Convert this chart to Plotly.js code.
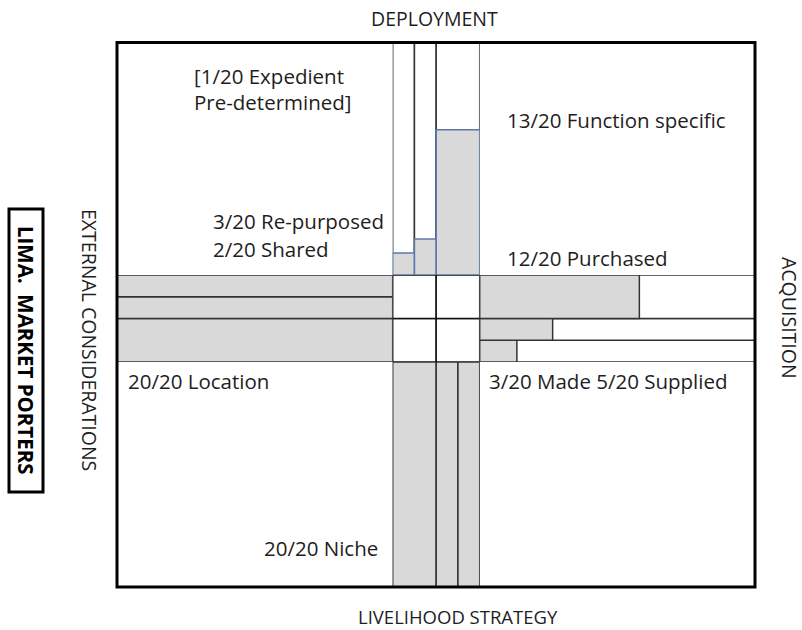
<!DOCTYPE html>
<html>
<head>
<meta charset="utf-8">
<script src="https://cdn.plot.ly/plotly-3.0.1.min.js"></script>
<style>
  body { margin: 0; background: #fff; }
  #myPlotDiv { width: 802px; height: 630px; }
</style>
</head>
<body>
<div id="myPlotDiv"></div>
<script>
// lanes are [position, width] on a 4-unit scale across each arm
// values are scores out of 20

// Deployment (top arm), lanes left to right
const deployLanes = [0.5, 1.5, 3];
const deployWidths = [1, 1, 2];
const deployValues = [1.9, 3.1, 12.5];

// Acquisition (right arm), lanes bottom to top
const acqLanes = [0.5, 1.5, 3];
const acqWidths = [1, 1, 2];
const acqValues = [2.7, 5.3, 11.6];

// External considerations (left arm), lanes bottom to top
const extLanes = [1, 2.5, 3.5];
const extWidths = [2, 1, 1];
const extValues = [20, 20, 20];

// Livelihood strategy (bottom arm), lanes left to right
const liveLanes = [1, 2.5, 3.5];
const liveWidths = [2, 1, 1];
const liveValues = [20, 20, 20];

const maxScore = 20;

// centre square: 2 x 2 empty cells
const centreX = [0.5, 1.5, 0.5, 1.5];
const centreBase = [0, 0, 1, 1];

const W = 802, H = 630;
const px = v => v / W;          // pixel -> paper x
const py = v => 1 - v / H;      // pixel -> paper y

const FONT = '"Open Sans", Lato, sans-serif';
const GRAY = '#d9d9d9';
const EDGE = '#333333';

function full(n) { return new Array(n).fill(maxScore); }

// vertical arm traces
function vArm(lanes, widths, values, xa, ya, fillEdge) {
    return [
        {
            type: 'bar', x: lanes, y: full(lanes.length), width: widths,
            xaxis: xa, yaxis: ya, cliponaxis: false, hoverinfo: 'skip',
            marker: { color: '#ffffff', line: { color: EDGE, width: 1.5 } }
        },
        {
            type: 'bar', x: lanes, y: values, width: widths,
            xaxis: xa, yaxis: ya, cliponaxis: false, hoverinfo: 'skip',
            marker: { color: GRAY, line: { color: fillEdge, width: 1.5 } }
        }
    ];
}

// horizontal arm traces
function hArm(lanes, widths, values, xa, ya) {
    return [
        {
            type: 'bar', orientation: 'h', y: lanes, x: full(lanes.length), width: widths,
            xaxis: xa, yaxis: ya, cliponaxis: false, hoverinfo: 'skip',
            marker: { color: '#ffffff', line: { color: EDGE, width: 1.5 } }
        },
        {
            type: 'bar', orientation: 'h', y: lanes, x: values, width: widths,
            xaxis: xa, yaxis: ya, cliponaxis: false, hoverinfo: 'skip',
            marker: { color: GRAY, line: { color: EDGE, width: 1.5 } }
        }
    ];
}

var data = []
    .concat(vArm(deployLanes, deployWidths, deployValues, 'x', 'y', '#5b78a8'))
    .concat(hArm(acqLanes, acqWidths, acqValues, 'x2', 'y2'))
    .concat(hArm(extLanes, extWidths, extValues, 'x3', 'y3'))
    .concat(vArm(liveLanes, liveWidths, liveValues, 'x4', 'y4', EDGE));

data.push({
    type: 'bar', x: centreX, y: [1, 1, 1, 1], base: centreBase, width: 1,
    xaxis: 'x5', yaxis: 'y5', cliponaxis: false, hoverinfo: 'skip',
    marker: { color: '#ffffff', line: { color: '#111111', width: 1.5 } }
});

function ax(domain, range) {
    return { domain: domain, range: range, visible: false, fixedrange: true };
}

// pixel boundaries of the diagram
const L = 117, R = 755, T = 42.5, B = 587;
const cx0 = 392.7, cx1 = 479.7, cy0 = 275, cy1 = 362;

function label(text, x, y, opts) {
    return Object.assign({
        text: text, x: px(x), y: py(y), xref: 'paper', yref: 'paper',
        xanchor: 'left', yanchor: 'middle', showarrow: false,
        font: { family: FONT, size: 20.5, color: '#1e1e1e' }
    }, opts || {});
}

function heading(text, x, y, angle, size) {
    return label(text, x, y, {
        xanchor: 'center', textangle: angle || 0, borderpad: 0,
        font: { family: FONT, size: size || 19.5, color: '#1e1e1e' }
    });
}

var layout = {
    width: W, height: H, autosize: false,
    margin: { l: 0, r: 0, t: 0, b: 0 },
    paper_bgcolor: '#ffffff', plot_bgcolor: 'rgba(0,0,0,0)',
    showlegend: false, barmode: 'overlay', bargap: 0,
    xaxis: ax([px(cx0), px(cx1)], [0, 4]),
    yaxis: ax([py(cy0), py(T)], [0, maxScore]),
    xaxis2: ax([px(cx1), px(R)], [0, maxScore]),
    yaxis2: ax([py(cy1), py(cy0)], [0, 4]),
    xaxis3: ax([px(L), px(cx0)], [maxScore, 0]),
    yaxis3: ax([py(cy1), py(cy0)], [0, 4]),
    xaxis4: ax([px(cx0), px(cx1)], [0, 4]),
    yaxis4: ax([py(B), py(cy1)], [maxScore, 0]),
    xaxis5: ax([px(cx0), px(cx1)], [0, 2]),
    yaxis5: ax([py(cy1), py(cy0)], [0, 2]),
    shapes: [
        {
            type: 'rect', xref: 'paper', yref: 'paper',
            x0: px(L), x1: px(R), y0: py(B), y1: py(T),
            line: { color: '#000000', width: 3 }, layer: 'above'
        },
        {
            type: 'rect', xref: 'paper', yref: 'paper',
            x0: px(9), x1: px(43), y0: py(492), y1: py(209),
            line: { color: '#000000', width: 3 }
        }
    ],
    annotations: [
        heading('DEPLOYMENT', 434, 18),
        heading('LIVELIHOOD STRATEGY', 458, 616, 0, 18.5),
        heading('EXTERNAL CONSIDERATIONS', 90, 340, 90),
        heading('ACQUISITION', 790, 318, 90),
        label('<b>LIMA.  MARKET PORTERS</b>', 26, 350, {
            xanchor: 'center', textangle: 90,
            font: { family: FONT, size: 20.5, color: '#000000' }
        }),
        label('[1/20 Expedient', 192, 76),
        label('Pre-determined]', 192, 102),
        label('13/20 Function specific', 505, 120),
        label('3/20 Re-purposed', 211, 221),
        label('2/20 Shared', 211, 249),
        label('12/20 Purchased', 505, 258),
        label('20/20 Location', 126, 381),
        label('3/20 Made 5/20 Supplied', 487, 381),
        label('20/20 Niche', 262, 548)
    ]
};

Plotly.newPlot('myPlotDiv', data, layout, { staticPlot: true });
</script>
</body>
</html>
